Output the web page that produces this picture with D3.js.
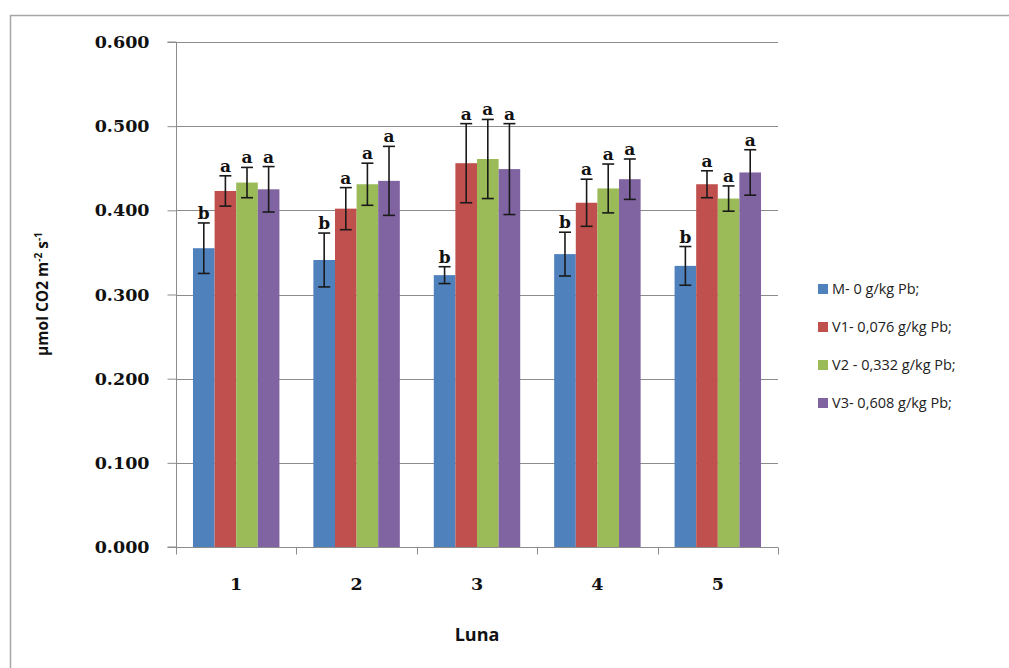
<!DOCTYPE html>
<html>
<head>
<meta charset="utf-8">
<script src="https://cdn.jsdelivr.net/npm/d3@7/dist/d3.min.js"></script>
<style>
  html, body { margin: 0; padding: 0; background: #fff; }
  svg { display: block; }
</style>
</head>
<body>
<svg id="chart" width="1009" height="668"></svg>
<script>
// Monthly photosynthesis rate per Pb treatment
const categories = ["1", "2", "3", "4", "5"];
const seriesNames = ["M- 0 g/kg Pb;", "V1- 0,076 g/kg Pb;", "V2 - 0,332 g/kg Pb;", "V3- 0,608 g/kg Pb;"];
const valuesM  = [0.355, 0.341, 0.323, 0.348, 0.334];
const valuesV1 = [0.423, 0.402, 0.456, 0.409, 0.431];
const valuesV2 = [0.433, 0.431, 0.461, 0.426, 0.414];
const valuesV3 = [0.425, 0.435, 0.449, 0.437, 0.445];
const errorsM  = [0.030, 0.032, 0.010, 0.026, 0.023];
const errorsV1 = [0.018, 0.025, 0.047, 0.028, 0.016];
const errorsV2 = [0.018, 0.025, 0.047, 0.029, 0.015];
const errorsV3 = [0.027, 0.041, 0.054, 0.024, 0.027];
const lettersM  = ["b", "b", "b", "b", "b"];
const lettersV1 = ["a", "a", "a", "a", "a"];
const lettersV2 = ["a", "a", "a", "a", "a"];
const lettersV3 = ["a", "a", "a", "a", "a"];
const yTicks = [0, 0.1, 0.2, 0.3, 0.4, 0.5, 0.6];
const colors = ["#4F81BD", "#C0504D", "#9BBB59", "#8064A2"];

const seriesValues = [valuesM, valuesV1, valuesV2, valuesV3];
const seriesErrors = [errorsM, errorsV1, errorsV2, errorsV3];
const seriesLetters = [lettersM, lettersV1, lettersV2, lettersV3];

const svg = d3.select("#chart");
const serif = "DejaVu Serif, serif";
const sans = "Open Sans, sans-serif";

// chart frame
svg.append("rect")
  .attr("x", 10.5).attr("y", 15.5)
  .attr("width", 1009).attr("height", 700)
  .attr("fill", "#fff").attr("stroke", "#a6a6a6").attr("stroke-width", 1.5);

const plot = { left: 176, right: 778, top: 42, bottom: 547 };

const x0 = d3.scaleBand().domain(categories)
  .range([plot.left, plot.right]).paddingInner(0.282).paddingOuter(0.141);
const x1 = d3.scaleBand().domain(d3.range(seriesNames.length))
  .range([0, x0.bandwidth()]);
const y = d3.scaleLinear().domain([0, 0.6]).range([plot.bottom, plot.top]);

// horizontal gridlines
svg.append("g").selectAll("line")
  .data(yTicks.filter(t => t > 0))
  .join("line")
  .attr("x1", plot.left).attr("x2", plot.right)
  .attr("y1", d => Math.round(y(d)) + 0.5).attr("y2", d => Math.round(y(d)) + 0.5)
  .attr("stroke", "#8c8c8c").attr("stroke-width", 1);

// bars
const data = [];
categories.forEach((c, i) => {
  seriesNames.forEach((s, j) => {
    data.push({ cat: c, s: j, v: seriesValues[j][i], e: seriesErrors[j][i], l: seriesLetters[j][i] });
  });
});

svg.append("g").selectAll("rect")
  .data(data)
  .join("rect")
  .attr("x", d => x0(d.cat) + x1(d.s))
  .attr("y", d => y(d.v))
  .attr("width", x1.bandwidth())
  .attr("height", d => y(0) - y(d.v))
  .attr("fill", d => colors[d.s]);

// error bars
const eg = svg.append("g").attr("stroke", "#1a1a1a").attr("stroke-width", 1.6);
data.forEach(d => {
  const cx = x0(d.cat) + x1(d.s) + x1.bandwidth() / 2;
  const yt = y(d.v + d.e), yb = y(d.v - d.e);
  eg.append("line").attr("x1", cx).attr("x2", cx).attr("y1", yt).attr("y2", yb);
  eg.append("line").attr("x1", cx - 6).attr("x2", cx + 6).attr("y1", yt).attr("y2", yt);
  eg.append("line").attr("x1", cx - 6).attr("x2", cx + 6).attr("y1", yb).attr("y2", yb);
});

// significance letters
svg.append("g").selectAll("text")
  .data(data)
  .join("text")
  .attr("x", d => x0(d.cat) + x1(d.s) + x1.bandwidth() / 2)
  .attr("y", d => y(d.v + d.e) - 4)
  .attr("text-anchor", "middle")
  .attr("font-family", serif)
  .attr("font-weight", "bold")
  .attr("font-size", 17)
  .attr("fill", "#111")
  .text(d => d.l);

// y axis
const yAxis = svg.append("g")
  .attr("transform", `translate(${plot.left + 0.5},0)`)
  .call(d3.axisLeft(y).tickValues(yTicks).tickFormat(d3.format(".3f")).tickSize(9).tickPadding(18));
yAxis.select(".domain").attr("stroke", "#8c8c8c").attr("d", `M-9,${plot.top}H0V${plot.bottom}H-9`);
yAxis.selectAll(".tick line").attr("stroke", "#8c8c8c");
yAxis.selectAll(".tick text")
  .attr("font-family", serif)
  .attr("font-weight", "bold")
  .attr("font-size", 17.5)
  .attr("fill", "#111");

// x axis
const xAxis = svg.append("g")
  .attr("transform", `translate(0,${plot.bottom + 0.5})`)
  .call(d3.axisBottom(x0).tickSize(0).tickPadding(30));
xAxis.select(".domain").attr("stroke", "#8c8c8c").attr("d", `M${plot.left},0H${plot.right}`);
xAxis.selectAll(".tick text")
  .attr("font-family", serif)
  .attr("font-weight", "bold")
  .attr("font-size", 17.5)
  .attr("fill", "#111");
// category boundary ticks
const bounds = categories.map((c, i) => i === 0 ? plot.left : (x0(categories[i - 1]) + x0.bandwidth() + x0(c)) / 2);
bounds.push(plot.right);
xAxis.append("g").selectAll("line")
  .data(bounds)
  .join("line")
  .attr("x1", d => Math.round(d) + 0.5).attr("x2", d => Math.round(d) + 0.5)
  .attr("y1", 0).attr("y2", 7)
  .attr("stroke", "#8c8c8c");

// axis titles
svg.append("text")
  .attr("x", 477).attr("y", 641)
  .attr("text-anchor", "middle")
  .attr("font-family", sans)
  .attr("font-weight", "bold")
  .attr("font-size", 18)
  .attr("fill", "#111")
  .text("Luna");

const yt = svg.append("text")
  .attr("transform", "translate(48,294) rotate(-90)")
  .attr("text-anchor", "middle")
  .attr("font-family", sans)
  .attr("font-weight", "bold")
  .attr("font-size", 15.5)
  .attr("fill", "#111");
yt.append("tspan").text("µmol CO2 m");
yt.append("tspan").attr("dy", -6).attr("font-size", 10).text("-2");
yt.append("tspan").attr("dy", 6).text(" s");
yt.append("tspan").attr("dy", -6).attr("font-size", 10).text("-1");

// legend
const legend = svg.append("g");
seriesNames.forEach((n, j) => {
  const ly = 289 + j * 38;
  legend.append("rect")
    .attr("x", 818).attr("y", ly - 5).attr("width", 10).attr("height", 10)
    .attr("fill", colors[j]);
  legend.append("text")
    .attr("x", 832).attr("y", ly + 5)
    .attr("font-family", sans)
    .attr("font-size", 14.5)
    .attr("fill", "#222")
    .text(n);
});
</script>
</body>
</html>
